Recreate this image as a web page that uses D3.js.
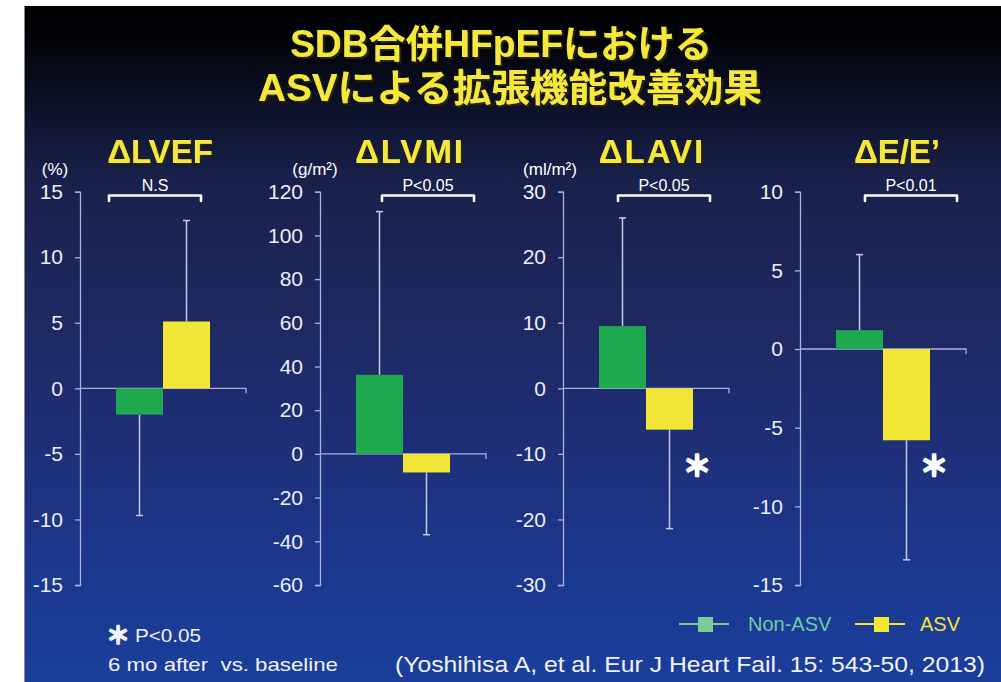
<!DOCTYPE html>
<html>
<head>
<meta charset="utf-8">
<script src="https://cdn.jsdelivr.net/npm/d3@7"></script>
<style>
  html, body { margin: 0; padding: 0; background: #ffffff; }
  svg { display: block; }
  text { white-space: pre; }
</style>
</head>
<body>
<script>
// ---- Data ----
const panelTitles = ["ΔLVEF", "ΔLVMI", "ΔLAVI", "ΔE/E’"];
const unitLabels  = ["(%)", "(g/m²)", "(ml/m²)", ""];
const groups      = ["Non-ASV", "ASV"];
const nonAsvMean  = [-2.0, 36.2, 9.5, 1.2];
const nonAsvSD    = [7.7, 74.7, 16.5, 4.8];
const asvMean     = [5.1, -8.5, -6.3, -5.8];
const asvSD       = [7.7, 28.5, 15.1, 7.6];
const yDomains    = [[-15, 15], [-60, 120], [-30, 30], [-15, 10]];
const yTickSteps  = [5, 20, 10, 5];
const pLabels     = ["N.S", "P<0.05", "P<0.05", "P<0.01"];
const asvStar     = [false, false, true, true];
const titleLines  = ["SDB合併HFpEFにおける", "ASVによる拡張機能改善効果"];
const footNotes   = ["P<0.05", "6 mo after  vs. baseline", "(Yoshihisa A, et al. Eur J Heart Fail. 15: 543-50, 2013)"];

// ---- Layout ----
const W = 1001, H = 682;
const axisX    = [80, 320, 563, 800];
const titleX   = [160, 410, 652, 897];
const unitX    = [55, 315, 550, 0];
const bracketL = [29, 62, 55, 65];
const starY    = 464;
const plotTop = 191.7, plotBottom = 585;
const colors = { "Non-ASV": "#1fa94f", "ASV": "#f2e737" };
const axisColor = "#aeb0dc";
const YELLOW = "#f4e83c";

const svg = d3.select("body").append("svg").attr("width", W).attr("height", H);
const defs = svg.append("defs");

const grad = defs.append("linearGradient").attr("id", "bg").attr("x1", 0).attr("y1", 0).attr("x2", 0).attr("y2", 1);
[[0, "#000000"], [0.05, "#020308"], [0.13, "#0b0f24"], [0.25, "#18204a"], [0.45, "#1e285f"],
 [0.65, "#1e2f78"], [0.82, "#1c378d"], [1, "#1a3f9c"]].forEach(([o, c]) =>
  grad.append("stop").attr("offset", o).attr("stop-color", c));

const shadow = defs.append("filter").attr("id", "shadow").attr("x", "-10%").attr("y", "-20%").attr("width", "130%").attr("height", "150%");
shadow.append("feDropShadow").attr("dx", 2).attr("dy", 2).attr("stdDeviation", 0.6)
  .attr("flood-color", "#2a2000").attr("flood-opacity", 1);

// slide background
svg.append("rect").attr("x", 25).attr("y", 6).attr("width", W - 25).attr("height", H - 6).attr("fill", "url(#bg)");
svg.append("line").attr("x1", 24.5).attr("x2", 24.5).attr("y1", 6).attr("y2", H).attr("stroke", "#8a8a8a").attr("stroke-width", 1);

// main title, two lines
const titleSpec = [{ x: 501, y: 57, len: 422 }, { x: 510, y: 101, len: 504 }];
titleLines.forEach((t, i) => {
  svg.append("text").attr("filter", "url(#shadow)")
    .attr("x", titleSpec[i].x).attr("y", titleSpec[i].y)
    .attr("text-anchor", "middle")
    .attr("textLength", titleSpec[i].len).attr("lengthAdjust", "spacingAndGlyphs")
    .attr("font-family", "'Liberation Sans', 'Noto Sans CJK JP', sans-serif").attr("font-weight", 700)
    .attr("font-size", 38).attr("fill", YELLOW)
    .text(t);
});

// panels
panelTitles.forEach((title, i) => {
  const ax = axisX[i];
  const [lo, hi] = yDomains[i];
  const y = d3.scaleLinear().domain([lo, hi]).range([plotBottom, plotTop]);
  const x = d3.scaleBand().domain(groups).range([ax + 36, ax + 130]);
  const g = svg.append("g");

  // y axis
  const ticks = d3.range(lo, hi + yTickSteps[i] / 2, yTickSteps[i]);
  const axisG = g.append("g").attr("transform", `translate(${ax},0)`)
    .call(d3.axisLeft(y).tickValues(ticks).tickSize(5).tickPadding(12).tickFormat(d => String(d)));
  axisG.select(".domain").attr("stroke", axisColor).attr("stroke-width", 1.3);
  axisG.selectAll(".tick line").attr("stroke", axisColor).attr("stroke-width", 1.3);
  axisG.selectAll(".tick text").attr("fill", "#eeeef6")
    .attr("font-family", "'Liberation Sans', Arial, sans-serif").attr("font-size", 21);

  // zero line with end tick
  const y0 = y(0);
  g.append("path").attr("d", `M${ax},${y0}H${ax + 166}V${y0 + 5}`)
    .attr("fill", "none").attr("stroke", axisColor).attr("stroke-width", 1.3);

  const rows = [
    { grp: "Non-ASV", mean: nonAsvMean[i], sd: nonAsvSD[i] },
    { grp: "ASV", mean: asvMean[i], sd: asvSD[i] }
  ];

  // error bars (one-sided, away from zero)
  rows.forEach(r => {
    const cx = x(r.grp) + x.bandwidth() / 2;
    const end = r.mean + Math.sign(r.mean) * r.sd;
    g.append("line").attr("x1", cx).attr("x2", cx).attr("y1", y(r.mean)).attr("y2", y(end))
      .attr("stroke", "#c9cbe6").attr("stroke-width", 1.5);
    g.append("line").attr("x1", cx - 3.5).attr("x2", cx + 3.5).attr("y1", y(end)).attr("y2", y(end))
      .attr("stroke", "#c9cbe6").attr("stroke-width", 1.5);
  });

  // bars
  g.selectAll("rect.bar").data(rows).join("rect").attr("class", "bar")
    .attr("x", d => x(d.grp)).attr("width", x.bandwidth())
    .attr("y", d => y(Math.max(0, d.mean)))
    .attr("height", d => Math.abs(y(d.mean) - y(0)))
    .attr("fill", d => colors[d.grp]);

  // significance star
  if (asvStar[i]) {
    g.append("text").attr("x", ax + 134).attr("y", starY)
      .attr("text-anchor", "middle").attr("dominant-baseline", "central")
      .attr("font-family", "'Noto Sans CJK JP', sans-serif").attr("font-weight", 900)
      .attr("font-size", 29).attr("fill", "#ffffff")
      .attr("stroke", "#ffffff").attr("stroke-width", 1.6).attr("stroke-linejoin", "round")
      .text("＊");
  }

  // bracket + p label
  const bx = ax + bracketL[i], bw = 92, by = 195.5;
  g.append("path").attr("d", `M${bx},${by + 5.5}V${by}H${bx + bw}V${by + 5.5}`)
    .attr("fill", "none").attr("stroke", "#ffffff").attr("stroke-width", 2.6)
    .attr("stroke-linejoin", "round").attr("stroke-linecap", "round");
  g.append("text").attr("x", bx + bw / 2).attr("y", 191).attr("text-anchor", "middle")
    .attr("font-family", "'Liberation Sans', Arial, sans-serif").attr("font-size", 16)
    .attr("fill", "#ffffff").text(pLabels[i]);

  // panel title
  g.append("text").attr("x", titleX[i]).attr("y", 163).attr("text-anchor", "middle")
    .attr("filter", "url(#shadow)")
    .attr("font-family", "'Liberation Sans', Arial, sans-serif").attr("font-weight", 700)
    .attr("font-size", 33).attr("letter-spacing", i === 1 || i === 2 ? 2 : 0)
    .attr("fill", YELLOW).text(title);

  // unit label
  if (unitLabels[i]) {
    g.append("text").attr("x", unitX[i]).attr("y", 175).attr("text-anchor", "middle")
      .attr("font-family", "'Liberation Sans', Arial, sans-serif").attr("font-size", 17)
      .attr("fill", "#ffffff").text(unitLabels[i]);
  }
});

// legend
const legend = svg.append("g");
const legendSpec = [
  { grp: "Non-ASV", x: 679, fill: "#7ccb98", text: "#6ecaa2", tx: 748 },
  { grp: "ASV", x: 855, fill: "#f4e62e", text: "#f2e43a", tx: 920 }
];
legendSpec.forEach(l => {
  legend.append("line").attr("x1", l.x).attr("x2", l.x + 50).attr("y1", 624).attr("y2", 624)
    .attr("stroke", l.fill).attr("stroke-width", 2);
  legend.append("rect").attr("x", l.x + 19).attr("y", 617).attr("width", 15).attr("height", 15).attr("fill", l.fill);
  legend.append("text").attr("x", l.tx).attr("y", 631)
    .attr("font-family", "'Liberation Sans', Arial, sans-serif").attr("font-size", 20)
    .attr("fill", l.text).text(l.grp);
});

// footnotes
const fn = svg.append("g").attr("font-family", "'Liberation Sans', Arial, sans-serif").attr("fill", "#f2f2f6");
fn.append("text").attr("x", 118).attr("y", 633).attr("text-anchor", "middle").attr("dominant-baseline", "central")
  .attr("font-family", "'Noto Sans CJK JP', sans-serif").attr("font-weight", 900).attr("font-size", 24)
  .attr("stroke", "#f2f2f6").attr("stroke-width", 1.3).attr("stroke-linejoin", "round").text("＊");
fn.append("text").attr("x", 135).attr("y", 642).attr("font-size", 19)
  .attr("textLength", 66).attr("lengthAdjust", "spacingAndGlyphs").text(footNotes[0]);
fn.append("text").attr("x", 108).attr("y", 671).attr("font-size", 19)
  .attr("textLength", 230).attr("lengthAdjust", "spacingAndGlyphs").text(footNotes[1]);
fn.append("text").attr("x", 395).attr("y", 672).attr("font-size", 22)
  .attr("textLength", 590).attr("lengthAdjust", "spacingAndGlyphs").text(footNotes[2]);
</script>
</body>
</html>
